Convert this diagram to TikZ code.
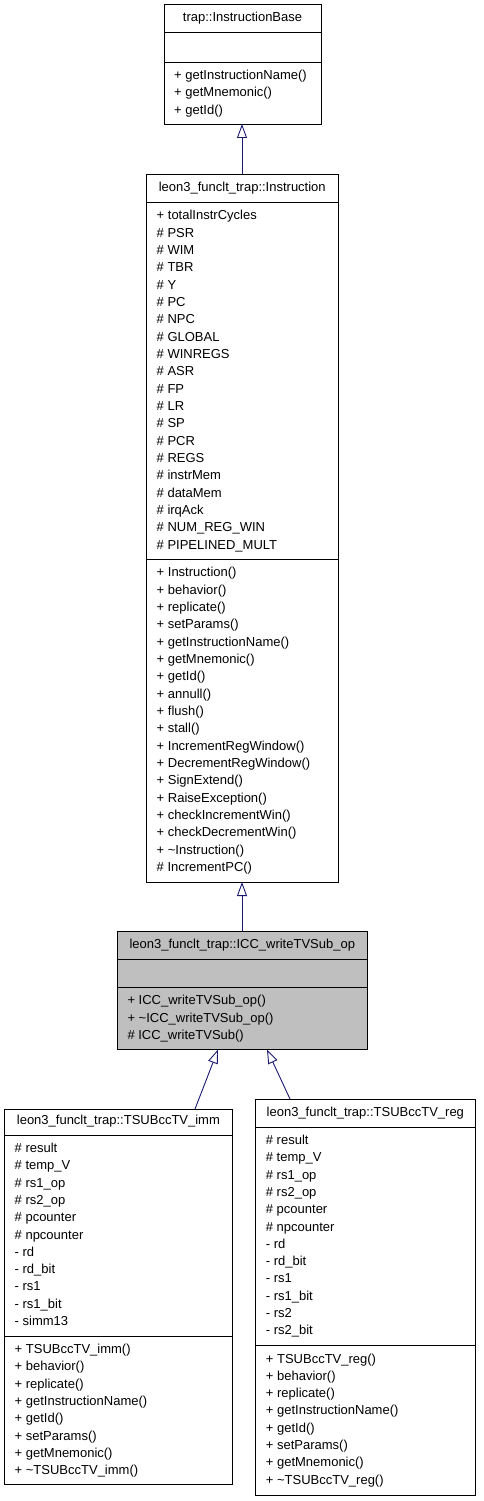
\documentclass[tikz,border=0pt]{standalone}
\usepackage{fontspec}
\setmainfont{Liberation Sans}
\usetikzlibrary{arrows.meta}
\definecolor{edgeblue}{HTML}{191970}
\definecolor{hlgray}{HTML}{BFBFBF}
\tikzset{
  classbox/.style={draw=black, line width=0.9pt, fill=white, inner sep=0pt, outer sep=0pt, anchor=north west},
  txt/.style={anchor=base west, inner sep=0pt, font=\fontsize{13}{15}\selectfont},
  hdr/.style={anchor=base, inner sep=0pt, font=\fontsize{13}{15}\selectfont},
  sepline/.style={draw=black, line width=0.9pt},
  inh/.style={draw=edgeblue, line width=0.9pt, -{Triangle[open, length=14pt, width=10pt]}}
}
\newcommand\classrows[5]{%
  \foreach \t [count=\i from 0] in {#5} \node[txt] (#1-\i) at (#2, #3 + \i*#4) {\t};%
}
\begin{document}
\begin{tikzpicture}[x=1pt, y=-1pt]
\useasboundingbox (0,0) rectangle (483,1501);

% ---- trap::InstructionBase
\node[classbox, minimum width=157pt, minimum height=120pt] (base) at (164,4) {};
\node[hdr] (base-h) at (242.5,21.5) {trap::InstructionBase};
\draw[sepline] (base.west |- 0,32.5) -- (base.east |- 0,32.5);
\draw[sepline] (base.west |- 0,62) -- (base.east |- 0,62);
\classrows{basem}{174}{79.5}{17.3}{+ getInstructionName(), + getMnemonic(), + getId()}

% ---- leon3_funclt_trap::Instruction
\node[classbox, minimum width=191.5pt, minimum height=708pt] (instr) at (146.5,174) {};
\node[hdr] (instr-h) at (242.25,191) {leon3\_funclt\_trap::Instruction};
\draw[sepline] (instr.west |- 0,202.3) -- (instr.east |- 0,202.3);
\draw[sepline] (instr.west |- 0,559.4) -- (instr.east |- 0,559.4);
\classrows{instra}{156.5}{219.8}{17.33}{+ totalInstrCycles, \# PSR, \# WIM, \# TBR, \# Y, \# PC, \# NPC, \# GLOBAL, \# WINREGS, \# ASR, \# FP, \# LR, \# SP, \# PCR, \# REGS, \# instrMem, \# dataMem, \# irqAck, \# NUM\_REG\_WIN, \# PIPELINED\_MULT}
\classrows{instrm}{156.5}{576.9}{17.33}{+ Instruction(), + behavior(), + replicate(), + setParams(), + getInstructionName(), + getMnemonic(), + getId(), + annull(), + flush(), + stall(), + IncrementRegWindow(), + DecrementRegWindow(), + SignExtend(), + RaiseException(), + checkIncrementWin(), + checkDecrementWin(), + \textasciitilde Instruction(), \# IncrementPC()}

% ---- leon3_funclt_trap::ICC_writeTVSub_op
\node[classbox, fill=hlgray, minimum width=250pt, minimum height=118.5pt] (icc) at (117.3,931) {};
\node[hdr] (icc-h) at (242.3,948) {leon3\_funclt\_trap::ICC\_writeTVSub\_op};
\draw[sepline] (icc.west |- 0,959.3) -- (icc.east |- 0,959.3);
\draw[sepline] (icc.west |- 0,987.3) -- (icc.east |- 0,987.3);
\classrows{iccm}{127.3}{1004.8}{17.33}{+ ICC\_writeTVSub\_op(), + \textasciitilde ICC\_writeTVSub\_op(), \# ICC\_writeTVSub()}

% ---- leon3_funclt_trap::TSUBccTV_imm
\node[classbox, minimum width=227.8pt, minimum height=375pt] (imm) at (4.5,1109) {};
\node[hdr] (imm-h) at (118.4,1124.5) {leon3\_funclt\_trap::TSUBccTV\_imm};
\draw[sepline] (imm.west |- 0,1135) -- (imm.east |- 0,1135);
\draw[sepline] (imm.west |- 0,1336) -- (imm.east |- 0,1336);
\classrows{imma}{14.5}{1152.5}{17.3}{\# result, \# temp\_V, \# rs1\_op, \# rs2\_op, \# pcounter, \# npcounter, - rd, - rd\_bit, - rs1, - rs1\_bit, - simm13}
\classrows{immm}{14.5}{1353.5}{17.3}{+ TSUBccTV\_imm(), + behavior(), + replicate(), + getInstructionName(), + getId(), + setParams(), + getMnemonic(), + \textasciitilde TSUBccTV\_imm()}

% ---- leon3_funclt_trap::TSUBccTV_reg
\node[classbox, minimum width=219.3pt, minimum height=396pt] (reg) at (255.7,1099) {};
\node[hdr] (reg-h) at (365.35,1116) {leon3\_funclt\_trap::TSUBccTV\_reg};
\draw[sepline] (reg.west |- 0,1127) -- (reg.east |- 0,1127);
\draw[sepline] (reg.west |- 0,1345.5) -- (reg.east |- 0,1345.5);
\classrows{rega}{265.7}{1144.5}{17.3}{\# result, \# temp\_V, \# rs1\_op, \# rs2\_op, \# pcounter, \# npcounter, - rd, - rd\_bit, - rs1, - rs1\_bit, - rs2, - rs2\_bit}
\classrows{regm}{265.7}{1363}{17.3}{+ TSUBccTV\_reg(), + behavior(), + replicate(), + getInstructionName(), + getId(), + setParams(), + getMnemonic(), + \textasciitilde TSUBccTV\_reg()}

% ---- inheritance edges
\draw[inh] (instr.north -| 242,0) -- (base.south -| 242,0);
\draw[inh] (icc.north -| 242,0) -- (instr.south -| 242,0);
\draw[inh] ([xshift=190.5pt]imm.north west) -- ([xshift=100.7pt]icc.south west);
\draw[inh] ([xshift=34.3pt]reg.north west) -- ([xshift=149.7pt]icc.south west);
\end{tikzpicture}
\end{document}
